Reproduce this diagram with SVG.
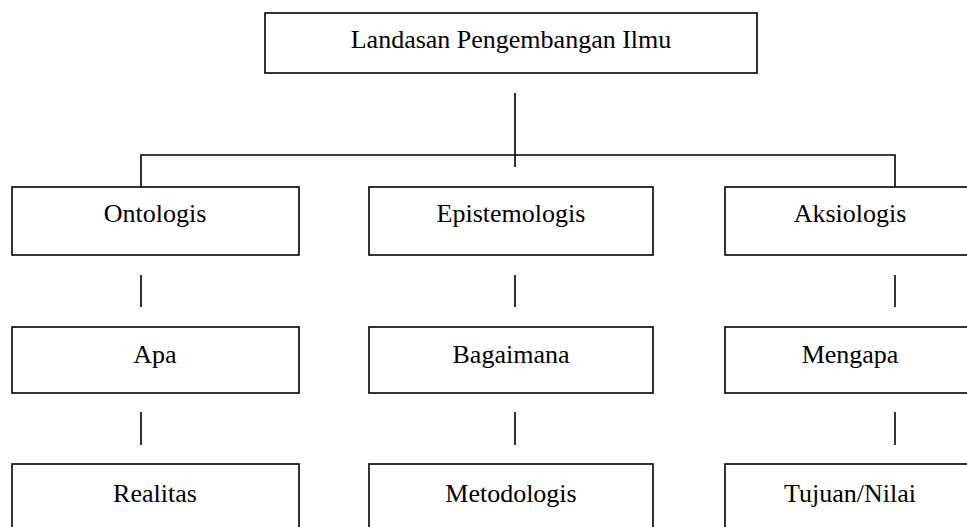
<svg xmlns="http://www.w3.org/2000/svg" width="967" height="527" viewBox="0 0 967 527">
<style>
.box{fill:#fff;stroke:#000;stroke-width:1.6}
.t{font-family:"Liberation Serif","Times New Roman",serif;font-size:26px;fill:#000;text-anchor:middle}
.c{stroke:#000;stroke-width:1.6;fill:none}
</style>
<rect width="967" height="527" fill="#fff"/>
<g id="connectors">
<line class="c" x1="515" y1="93" x2="515" y2="167"/>
<polyline class="c" points="141,187 141,155 895,155 895,187"/>
<line class="c" x1="141" y1="275" x2="141" y2="307"/>
<line class="c" x1="515" y1="275" x2="515" y2="307"/>
<line class="c" x1="895" y1="275" x2="895" y2="307"/>
<line class="c" x1="141" y1="412" x2="141" y2="445"/>
<line class="c" x1="515" y1="412" x2="515" y2="445"/>
<line class="c" x1="895" y1="412" x2="895" y2="445"/>
</g>
<g id="root"><rect class="box" x="265" y="13" width="492" height="60"/><text class="t" x="511" y="48">Landasan Pengembangan Ilmu</text></g>
<g id="ontologis"><rect class="box" x="12" y="187" width="287" height="68"/><text class="t" x="155" y="222">Ontologis</text></g>
<g id="epistemologis"><rect class="box" x="369" y="187" width="284" height="68"/><text class="t" x="511" y="222">Epistemologis</text></g>
<g id="aksiologis"><rect class="box" x="725" y="187" width="260" height="68"/><text class="t" x="850" y="222">Aksiologis</text></g>
<g id="apa"><rect class="box" x="12" y="327" width="287" height="66"/><text class="t" x="155" y="363">Apa</text></g>
<g id="bagaimana"><rect class="box" x="369" y="327" width="284" height="66"/><text class="t" x="511" y="363">Bagaimana</text></g>
<g id="mengapa"><rect class="box" x="725" y="327" width="260" height="66"/><text class="t" x="850" y="363">Mengapa</text></g>
<g id="realitas"><rect class="box" x="12" y="464" width="287" height="80"/><text class="t" x="155" y="502">Realitas</text></g>
<g id="metodologis"><rect class="box" x="369" y="464" width="284" height="80"/><text class="t" x="511" y="502">Metodologis</text></g>
<g id="tujuan"><rect class="box" x="725" y="464" width="260" height="80"/><text class="t" x="850" y="502">Tujuan/Nilai</text></g>
</svg>
